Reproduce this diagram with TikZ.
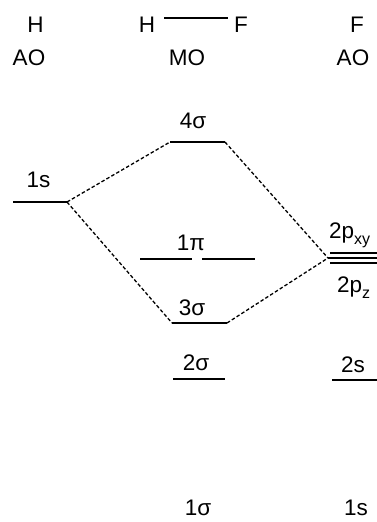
\documentclass[tikz,border=0pt]{standalone}
\usepackage{fontspec}
\setmainfont{Liberation Sans}
\newcommand{\lowsub}[1]{\raisebox{-0.28em}{\fontsize{16}{16}\selectfont #1}}
\begin{document}
\begin{tikzpicture}[x=1pt,y=-1pt,
  lbl/.style={anchor=base,inner sep=0pt,font=\fontsize{22.5}{26}\selectfont},
  level/.style={line width=2pt},
  thinlevel/.style={line width=1.5pt},
  conn/.style={line width=1.3pt,dash pattern=on 3.5pt off 2.2pt},
  bond/.style={line width=1.2pt}]
\useasboundingbox (0,0) rectangle (377,522);
% headers
\node[lbl] (hH) at (35.5,32) {H};
\node[lbl] (hAO) at (29,65) {AO};
\node[lbl] (mH) at (147,32) {H};
\node[lbl] (mF) at (241,32) {F};
\coordinate (bA) at (164,18);
\coordinate (bB) at (228,18);
\draw[bond] (bA) -- (bB);
\node[lbl] (mMO) at (187,65) {MO};
\node[lbl] (fF) at (357,32) {F};
\node[lbl] (fAO) at (353,65) {AO};
% levels: H 1s
\coordinate (h1sL) at (13,202); \coordinate (h1sR) at (67,202);
\draw[level] (h1sL) -- (h1sR);
\node[lbl] (t1sH) at (38.5,187) {1s};
% 4 sigma
\coordinate (s4L) at (170,142); \coordinate (s4R) at (225,142);
\draw[level] (s4L) -- (s4R);
\node[lbl] (t4s) at (193,128) {4σ};
% 1 pi
\coordinate (p1aL) at (140,259); \coordinate (p1aR) at (192,259);
\coordinate (p1bL) at (202,259); \coordinate (p1bR) at (255,259);
\draw[level] (p1aL) -- (p1aR);
\draw[level] (p1bL) -- (p1bR);
\node[lbl] (t1p) at (191,250) {1π};
% 3 sigma
\coordinate (s3L) at (172,323); \coordinate (s3R) at (227,323);
\draw[level] (s3L) -- (s3R);
\node[lbl] (t3s) at (192,315) {3σ};
% 2 sigma
\coordinate (s2L) at (173,379); \coordinate (s2R) at (225,379);
\draw[level] (s2L) -- (s2R);
\node[lbl] (t2s) at (196,370) {2σ};
% F 2p
\coordinate (pA) at (330,253); \coordinate (pAe) at (377,253);
\coordinate (pB) at (328,258); \coordinate (pBe) at (377,258);
\coordinate (pC) at (330,263); \coordinate (pCe) at (377,263);
\draw[thinlevel] (pA) -- (pAe);
\draw[thinlevel] (pB) -- (pBe);
\draw[thinlevel] (pC) -- (pCe);
\node[lbl,anchor=base west] (t2pxy) at (329,238) {2p\lowsub{xy}};
\node[lbl,anchor=base west] (t2pz) at (337,292) {2p\lowsub{z}};
% F 2s
\coordinate (f2sL) at (332,380); \coordinate (f2sR) at (377,380);
\draw[level] (f2sL) -- (f2sR);
\node[lbl] (t2sF) at (353,372) {2s};
% bottom labels
\node[lbl] (t1sig) at (198,515) {1σ};
\node[lbl] (t1sF) at (356,515) {1s};
% connectors
\draw[conn] (h1sR) -- (s4L);
\draw[conn] (s4R) -- (pB);
\draw[conn] (h1sR) -- (s3L);
\draw[conn] (s3R) -- (pB);
\end{tikzpicture}
\end{document}
